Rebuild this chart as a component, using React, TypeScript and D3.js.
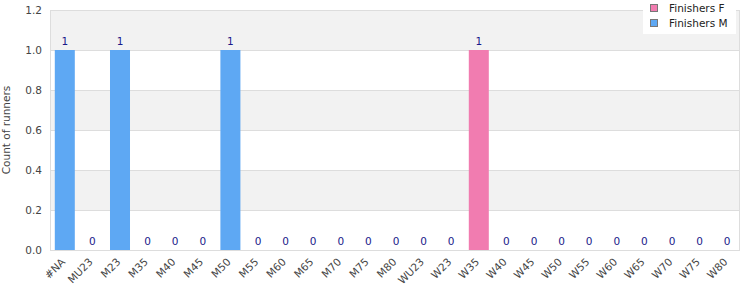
import React from "react";
import * as d3 from "d3";

const categories = ["#NA","MU23","M23","M35","M40","M45","M50","M55","M60","M65","M70","M75","M80","WU23","W23","W35","W40","W45","W50","W55","W60","W65","W70","W75","W80"];
const finishersF = [0,0,0,0,0,0,0,0,0,0,0,0,0,0,0,1,0,0,0,0,0,0,0,0,0];
const finishersM = [1,0,1,0,0,0,1,0,0,0,0,0,0,0,0,0,0,0,0,0,0,0,0,0,0];
const yTicks = [0, 0.2, 0.4, 0.6, 0.8, 1.0, 1.2];
const seriesNames = ["Finishers F", "Finishers M"];
const seriesColors = ["#f17cb0", "#5ea8f3"];

const W = 750, H = 300;
const left = 51, right = 741, top = 10, bottom = 250;
const font = "DejaVu Sans, sans-serif";

export default function App() {
  const x = d3.scaleBand<string>().domain(categories).range([left, right]).paddingInner(0.275).paddingOuter(0.1375);
  const y = d3.scaleLinear().domain([0, 1.2]).range([bottom, top]);
  const rows = categories.map((c, i) => ({ c, f: finishersF[i], m: finishersM[i] }));
  const stack = d3.stack<any>().keys(["f", "m"])(rows);
  const bands = yTicks.slice(0, -1).map((t, i) => ({ y0: t, y1: yTicks[i + 1], i }));
  return (
    <svg width={W} height={H} style={{ position: "absolute", left: 0, top: 0 }} fontFamily={font}>
      <rect x={0} y={0} width={W} height={H} fill="#fff" />
      {bands.map((b) => (
        <rect key={b.i} x={left - 1} y={y(b.y1)} width={right - left} height={y(b.y0) - y(b.y1)}
          fill={b.i % 2 === 1 ? "#f2f2f2" : "#ffffff"} />
      ))}
      {yTicks.map((t) => (
        <line key={t} x1={left - 1} x2={right - 1} y1={Math.round(y(t)) + 0.5} y2={Math.round(y(t)) + 0.5} stroke="#dddddd" />
      ))}
      <rect x={left - 0.5} y={top + 0.5} width={right - left - 1} height={bottom - top} fill="none" stroke="#dddddd" />
      {yTicks.map((t) => (
        <text key={t} x={42} y={y(t)} dy="0.35em" textAnchor="end" fontSize={10.5} fill="#444">{t.toFixed(1)}</text>
      ))}
      <text transform={`translate(6,${(top + bottom) / 2}) rotate(-90)`} textAnchor="middle" dy="0.35em" fontSize={10.5} fill="#444">Count of runners</text>
      {stack.map((s, si) => (
        <g key={si}>
          {s.map((d, i) => d[1] - d[0] > 0 ? (
            <rect key={i} x={x(categories[i])} width={x.bandwidth()} y={y(d[1])} height={y(d[0]) - y(d[1])} fill={seriesColors[si]} />
          ) : null)}
        </g>
      ))}
      {rows.map((r) => (
        <text key={r.c} x={x(r.c)! + x.bandwidth() / 2} y={y(r.f + r.m) - 5} textAnchor="middle" fontSize={10.5} fill="#1a1a8a">{r.f + r.m}</text>
      ))}
      {categories.map((c) => (
        <text key={c} transform={`translate(${x(c)! + x.bandwidth() / 2 - 1.5},${bottom + 10}) rotate(-45)`} textAnchor="end" dy="0.35em" fontSize={10.5} fill="#444">{c}</text>
      ))}
      <rect x={643} y={0} width={93} height={34} fill="#fff" />
      {seriesNames.map((n, i) => (
        <g key={n} transform={`translate(650,${4 + i * 15})`}>
          <rect x={0.5} y={0.5} width={7} height={7} fill={seriesColors[i]} stroke="#777" />
          <text x={19} y={4} dy="0.35em" fontSize={10.5} fill="#222">{n}</text>
        </g>
      ))}
    </svg>
  );
}
